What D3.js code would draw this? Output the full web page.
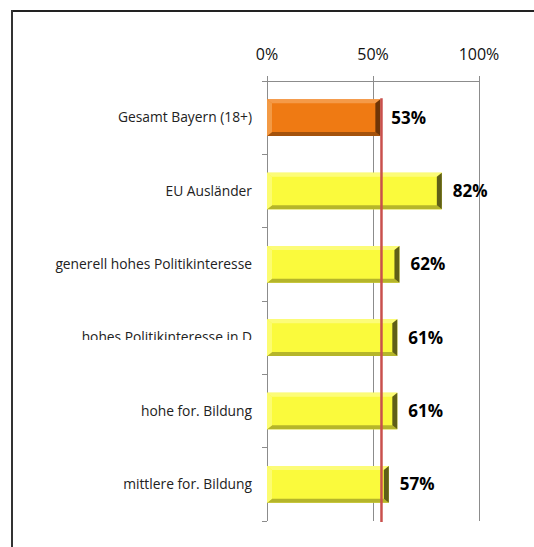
<!DOCTYPE html>
<html>
<head>
<meta charset="utf-8">
<script src="https://cdn.jsdelivr.net/npm/d3@7"></script>
<style>
  body { margin: 0; background: #fff; }
  svg { display: block; }
</style>
</head>
<body>
<div id="chart"></div>
<script>
let categories = ["Gesamt Bayern (18+)", "EU Ausländer", "generell hohes Politikinteresse",
  "hohes Politikinteresse in D", "hohe for. Bildung", "mittlere for. Bildung"];
let values = [53, 82, 62, 61, 61, 57];
let highlight = [true, false, false, false, false, false];
let refValue = 54;
let tickValues = [0, 50, 100];

let width = 534, height = 547;
let margin = { top: 81, left: 267, right: 55, bottom: 26 };

let svg = d3.select("#chart").append("svg")
  .attr("width", width)
  .attr("height", height);

// frame (only top and left are in the picture)
svg.append("line").attr("x1", 12).attr("y1", 11).attr("x2", width).attr("y2", 11)
  .attr("stroke", "#222").attr("stroke-width", 2);
svg.append("line").attr("x1", 12).attr("y1", 10).attr("x2", 12).attr("y2", height)
  .attr("stroke", "#333").attr("stroke-width", 2);

let x = d3.scaleLinear().domain([0, 100]).range([margin.left, 479]);
let y = d3.scaleBand().domain(categories).range([margin.top, height - margin.bottom]).paddingInner(0.5).paddingOuter(0.25);

let defs = svg.append("defs");
defs.append("clipPath").attr("id", "clip4")
  .append("rect").attr("x", 0).attr("y", 0).attr("width", width).attr("height", 340);

// grid lines
svg.selectAll(".grid").data(tickValues).enter().append("line")
  .attr("x1", d => x(d)).attr("x2", d => x(d))
  .attr("y1", margin.top - 5).attr("y2", height - margin.bottom)
  .attr("stroke", "#8c8c8c").attr("stroke-width", 1)
  .attr("shape-rendering", "crispEdges");

// top axis line
svg.append("line").attr("x1", x(0) - 5).attr("x2", x(100))
  .attr("y1", margin.top).attr("y2", margin.top)
  .attr("stroke", "#8c8c8c").attr("shape-rendering", "crispEdges");

// tick labels
svg.selectAll(".tick-label").data(tickValues).enter().append("text")
  .attr("x", d => x(d)).attr("y", 60)
  .attr("text-anchor", "middle")
  .style("font-family", "'Open Sans', sans-serif")
  .style("font-size", "16px")
  .attr("fill", "#111")
  .text(d => d + "%");

// category ticks on the left axis
let bounds = d3.range(categories.length + 1).map(i => margin.top + i * (height - margin.bottom - margin.top) / categories.length);
svg.selectAll(".cat-tick").data(bounds).enter().append("line")
  .attr("x1", x(0) - 5).attr("x2", x(0))
  .attr("y1", d => d).attr("y2", d => d)
  .attr("stroke", "#8c8c8c").attr("shape-rendering", "crispEdges");

// category labels
svg.selectAll(".cat-label").data(categories).enter().append("text")
  .attr("x", 252)
  .attr("y", d => y(d) + y.bandwidth() / 2)
  .attr("dy", "0.35em")
  .attr("text-anchor", "end")
  .attr("clip-path", (d, i) => i === 3 ? "url(#clip4)" : null)
  .style("font-family", "'Open Sans', sans-serif")
  .style("font-size", "13.8px")
  .attr("fill", "#222")
  .text(d => d);

// bevelled bars
let palette = {
  orange: { main: "#ef7a13", top: "#f59a48", left: "#f39a45", bottom: "#a4520c", right: "#6e3507" },
  yellow: { main: "#fafa3c", top: "#fcfc78", left: "#fcfc70", bottom: "#b5b52a", right: "#5f5f18" }
};

let bars = svg.selectAll(".bar").data(categories).enter().append("g");
bars.each(function (d, i) {
  let g = d3.select(this);
  let c = highlight[i] ? palette.orange : palette.yellow;
  let x0 = x(0), x1 = x(values[i]) + 1, y0 = y(d), y1 = y(d) + y.bandwidth();
  let bh = 4, bw = 5;
  g.append("rect").attr("x", x0).attr("y", y0).attr("width", x1 - x0).attr("height", y1 - y0).attr("fill", c.main);
  g.append("polygon").attr("points", [[x0, y0], [x1, y0], [x1 - bw, y0 + bh], [x0 + bw, y0 + bh]].join(" ")).attr("fill", c.top);
  g.append("polygon").attr("points", [[x0, y1], [x1, y1], [x1 - bw, y1 - bh], [x0 + bw, y1 - bh]].join(" ")).attr("fill", c.bottom);
  g.append("polygon").attr("points", [[x0, y0], [x0 + bw, y0 + bh], [x0 + bw, y1 - bh], [x0, y1]].join(" ")).attr("fill", c.left);
  g.append("polygon").attr("points", [[x1, y0], [x1 - bw, y0 + bh], [x1 - bw, y1 - bh], [x1, y1]].join(" ")).attr("fill", c.right);
});

// value labels
svg.selectAll(".val-label").data(categories).enter().append("text")
  .attr("x", (d, i) => x(values[i]) + 12)
  .attr("y", d => y(d) + y.bandwidth() / 2)
  .attr("dy", "0.35em")
  .style("font-family", "'Open Sans', sans-serif")
  .style("font-size", "17px")
  .style("font-weight", "bold")
  .attr("fill", "#000")
  .text((d, i) => values[i] + "%");

// reference line (Gesamt)
svg.append("line")
  .attr("x1", x(refValue)).attr("x2", x(refValue))
  .attr("y1", y(categories[0]) - 1).attr("y2", height - margin.bottom + 1)
  .attr("stroke", "#c9504d").attr("stroke-width", 2.5);
</script>
</body>
</html>
